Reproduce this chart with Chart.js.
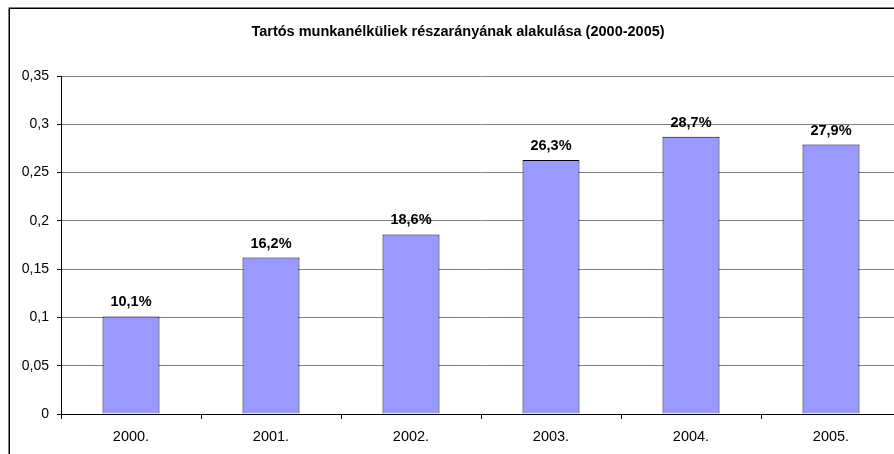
<!DOCTYPE html>
<html>
<head>
<meta charset="utf-8">
<script src="https://cdn.jsdelivr.net/npm/chart.js@4"></script>
<style>
    html, body { margin: 0; padding: 0; background: #fff; overflow: hidden; }
    #wrap { width: 894px; height: 454px; overflow: hidden; }
    canvas { display: block; }
</style>
</head>
<body>
<div id="wrap"><canvas id="chart" width="920" height="470" style="width:920px;height:470px"></canvas></div>
<script>
// Adatok
const chartTitle = 'Tartós munkanélküliek részarányának alakulása (2000-2005)';
const years = ['2000.', '2001.', '2002.', '2003.', '2004.', '2005.'];
const shares = [0.101, 0.162, 0.186, 0.263, 0.287, 0.279];
const yTickLabels = ['0', '0,05', '0,1', '0,15', '0,2', '0,25', '0,3', '0,35'];

const FONT = "'Liberation Sans', Arial, sans-serif";

// Keret + cím
const framePlugin = {
    id: 'frame',
    beforeDraw(chart) {
        const ctx = chart.ctx;
        ctx.save();
        ctx.strokeStyle = '#000';
        ctx.lineWidth = 1.5;
        ctx.strokeRect(9.25, 8.25, 1200, 1200);
        ctx.fillStyle = '#000';
        ctx.font = 'bold 14.5px ' + FONT;
        ctx.textAlign = 'center';
        ctx.textBaseline = 'middle';
        ctx.fillText(chartTitle, 458, 31.5);
        ctx.restore();
    }
};

// Értékcímkék az oszlopok fölött
const valueLabels = {
    id: 'valueLabels',
    afterDatasetsDraw(chart) {
        const ctx = chart.ctx;
        const meta = chart.getDatasetMeta(0);
        ctx.save();
        ctx.fillStyle = '#000';
        ctx.font = 'bold 14.5px ' + FONT;
        ctx.textAlign = 'center';
        ctx.textBaseline = 'alphabetic';
        meta.data.forEach((bar, i) => {
            const txt = (shares[i] * 100).toFixed(1).replace('.', ',') + '%';
            ctx.fillText(txt, bar.x, bar.y - 10);
        });
        ctx.restore();
    }
};

new Chart(document.getElementById('chart'), {
    type: 'bar',
    data: {
        labels: years,
        datasets: [{
            data: shares,
            backgroundColor: '#9999FF',
            borderColor: '#000',
            borderWidth: 1,
            categoryPercentage: 1,
            barPercentage: 0.407
        }]
    },
    options: {
        responsive: false,
        animation: false,
        layout: { padding: { left: 0, top: 76, right: 19, bottom: 0 } },
        plugins: {
            legend: { display: false },
            title: { display: false },
            tooltip: { enabled: false }
        },
        scales: {
            x: {
                offset: true,
                afterFit(scale) { scale.height = 56; },
                grid: {
                    offset: true,
                    drawOnChartArea: false,
                    drawTicks: true,
                    tickLength: 5,
                    tickColor: '#000'
                },
                border: { color: '#000', width: 1 },
                ticks: {
                    color: '#000',
                    padding: 9,
                    font: { family: FONT, size: 14.5 },
                    maxRotation: 0
                }
            },
            y: {
                min: 0,
                max: 0.35,
                afterFit(scale) { scale.width = 61; },
                grid: {
                    color: '#808080',
                    tickColor: '#000',
                    tickLength: 4
                },
                border: { color: '#000', width: 1 },
                ticks: {
                    stepSize: 0.05,
                    color: '#000',
                    padding: 8,
                    font: { family: FONT, size: 14 },
                    callback: (v, i) => yTickLabels[i]
                }
            }
        }
    },
    plugins: [framePlugin, valueLabels]
});
</script>
</body>
</html>
